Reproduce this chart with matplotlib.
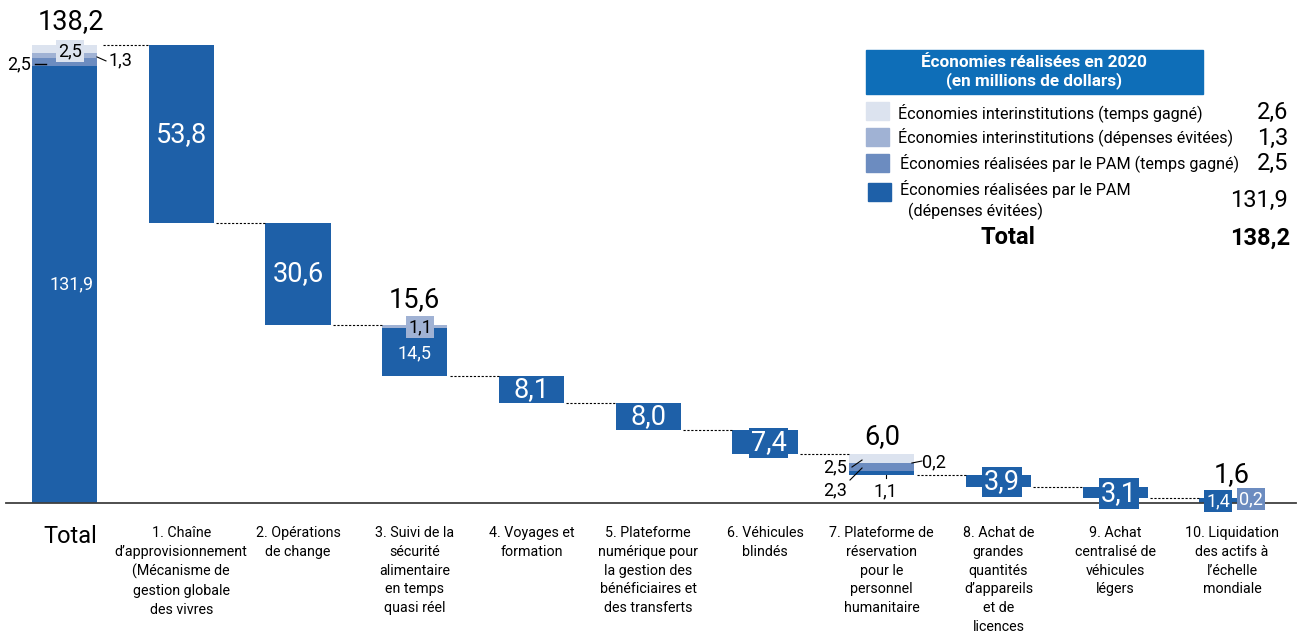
import matplotlib.pyplot as plt
from matplotlib.patches import Rectangle

plt.rcParams['font.family'] = ['Roboto', 'DejaVu Sans']

# ---- data -------------------------------------------------------------
categories = [
    "Total",
    "1. Chaîne\nd’approvisionnement\n(Mécanisme de\ngestion globale\ndes vivres",
    "2. Opérations\nde change",
    "3. Suivi de la\nsécurité\nalimentaire\nen temps\nquasi réel",
    "4. Voyages et\nformation",
    "5. Plateforme\nnumérique pour\nla gestion des\nbénéficiaires et\ndes transferts",
    "6. Véhicules\nblindés",
    "7. Plateforme de\nréservation\npour le\npersonnel\nhumanitaire",
    "8. Achat de\ngrandes\nquantités\nd’appareils\net de\nlicences",
    "9. Achat\ncentralisé de\nvéhicules\nlégers",
    "10. Liquidation\ndes actifs à\nl’échelle\nmondiale",
]
# stacked components, bottom to top
pam_depenses = [131.9, 53.8, 30.6, 14.5, 8.1, 8.0, 7.4, 1.1, 3.9, 3.1, 1.4]
pam_temps = [2.5, 0, 0, 0, 0, 0, 0, 2.3, 0, 0, 0.2]
inter_depenses = [1.3, 0, 0, 1.1, 0, 0, 0, 0.2, 0, 0, 0]
inter_temps = [2.5, 0, 0, 0, 0, 0, 0, 2.5, 0, 0, 0]
bar_totals = [138.2, 53.8, 30.6, 15.6, 8.1, 8.0, 7.4, 6.0, 3.9, 3.1, 1.6]

legend_labels = [
    "Économies interinstitutions (temps gagné)",
    "Économies interinstitutions (dépenses évitées)",
    "Économies réalisées par le PAM (temps gagné)",
    "Économies réalisées par le PAM\n  (dépenses évitées)",
]
legend_values = [2.6, 1.3, 2.5, 131.9]
grand_total = 138.2

c_dark = '#1e60a8'
c_med = '#6c8cc0'
c_grey = '#a0b2d4'
c_light = '#dce3ef'
c_head = '#0e6eb8'


def fmt(v):
    return f"{v:.1f}".replace(".", ",")


series = [(pam_depenses, c_dark), (pam_temps, c_med),
          (inter_depenses, c_grey), (inter_temps, c_light)]

# waterfall levels
n = len(categories)
sums = [sum(s[0][i] for s in series) for i in range(n)]
bases = [0.0]
tops = [sums[0]]
level = sums[0]
for i in range(1, n):
    tops.append(level)
    level -= sums[i]
    bases.append(level)

fig = plt.figure(figsize=(13.01, 6.37), dpi=100)
ax = fig.add_axes([0, 0, 1, 1])
ax.set_xlim(-0.5525, 10.591)
ax.set_ylim(-40.43, 151.78)
ax.axis('off')

w = 0.557
x = list(range(n))
for i in x:
    run = bases[i]
    for vals, col in series:
        if vals[i] > 0:
            ax.bar(i, vals[i], bottom=run, width=w, color=col, linewidth=0)
            run += vals[i]

# connectors
for i in range(n - 1):
    gap = 0.05 if i == 0 else 0.02
    y = tops[i] if i == 0 else bases[i]
    ax.plot([i + w / 2 + gap, i + 1 - w / 2], [y, y], color='black',
            lw=0.8, ls=(0, (2, 1.5)))

# baseline
ax.plot([-0.5, 10.55], [0, 0], color='#404040', lw=1.3)

# category labels
ax.text(0.05, -10.0, categories[0], ha='center', va='center', fontsize=17)
for i in x[1:]:
    ax.text(i, -7.0, categories[i], ha='center', va='top', fontsize=10.3,
            linespacing=1.43)

big = 19.5
small = 13

# values inside bars
for i in [1, 2, 4, 5]:
    ax.text(i, (tops[i] + bases[i]) / 2, fmt(bar_totals[i]), color='white',
            ha='center', va='center', fontsize=big)
for i in [6, 8, 9]:
    ax.text(i + 0.03, (tops[i] + bases[i]) / 2 - 0.3, fmt(bar_totals[i]),
            color='white', ha='center', va='center', fontsize=big,
            bbox=dict(boxstyle='square,pad=0.07', fc=c_dark, ec='none'))

# total column
ax.text(0.06, pam_depenses[0] / 2, fmt(pam_depenses[0]), color='white',
        ha='center', va='center', fontsize=small)
ax.text(0.055, tops[0] + 7.0, fmt(bar_totals[0]), ha='center', va='center',
        fontsize=big)
ax.text(0.047, tops[0] - 1.9, fmt(inter_temps[0]), ha='center', va='center',
        fontsize=small, bbox=dict(boxstyle='square,pad=0.12', fc=c_light, ec='none'))
ax.text(-0.287, 132.3, fmt(pam_temps[0]), ha='right', va='center', fontsize=small)
ax.plot([-0.253, -0.158], [132.6, 132.6], color='black', lw=1)
ax.text(0.373, 133.5, fmt(inter_depenses[0]), ha='left', va='center', fontsize=small)
ax.plot([0.278, 0.355], [134.6, 133.4], color='black', lw=0.8)

# bar 3
ax.text(3.0, pam_depenses[3] / 2 + bases[3] - 0.3, fmt(pam_depenses[3]),
        color='white', ha='center', va='center', fontsize=small)
ax.text(3.047, tops[3] - 0.7, fmt(inter_depenses[3]), ha='center', va='center',
        fontsize=small, bbox=dict(boxstyle='square,pad=0.12', fc=c_grey, ec='none'))
ax.text(3.0, tops[3] + 7.5, fmt(bar_totals[3]), ha='center', va='center',
        fontsize=big)

# bar 7
ax.text(7.0, tops[7] + 5.3, fmt(bar_totals[7]), ha='center', va='center',
        fontsize=big)
ax.text(6.70, 10.9, fmt(inter_temps[7]), ha='right', va='center', fontsize=small)
ax.plot([6.745, 6.831], [10.86, 12.97], color='black', lw=0.8)
ax.text(6.70, 3.9, fmt(pam_temps[7]), ha='right', va='center', fontsize=small)
ax.plot([6.728, 6.831], [6.94, 10.56], color='black', lw=0.8)
ax.text(7.035, 3.6, fmt(pam_depenses[7]), ha='center', va='center', fontsize=small)
ax.plot([7.035, 7.035], [bases[7], bases[7] - 1.0], color='black', lw=0.8)
ax.text(7.345, 12.4, fmt(inter_depenses[7]), ha='left', va='center', fontsize=small)
ax.plot([7.258, 7.344], [12.07, 12.67], color='black', lw=0.8)

# bar 10
ax.text(9.88, 0.6, fmt(pam_depenses[10]), color='white', ha='center',
        va='center', fontsize=small,
        bbox=dict(boxstyle='square,pad=0.12', fc=c_dark, ec='none'))
ax.text(10.16, 1.2, fmt(pam_temps[10]), color='white', ha='center',
        va='center', fontsize=small,
        bbox=dict(boxstyle='square,pad=0.12', fc=c_med, ec='none'))
ax.text(10.0, tops[10] + 7.0, fmt(bar_totals[10]), ha='center', va='center',
        fontsize=big)

# ---- legend panel (figure pixels) -------------------------------------
W, H = 1301, 637


def fx(px):
    return px / W


def fy(py):
    return 1 - py / H


fig.patches.append(Rectangle((fx(866), fy(94)), fx(337), 44 / H, color=c_head,
                             transform=fig.transFigure))
fig.text(fx(1034), fy(72), "Économies réalisées en 2020\n(en millions de dollars)",
         color='white', fontweight='bold', ha='center', va='center',
         fontsize=12.3, linespacing=1.12)

sw_cols = [c_light, c_grey, c_med, c_dark]
sw_y = [102, 128, 154, 183]
txt_y = [113, 137, 163, 200]
val_y = [112, 138, 163, 200]
for k in range(4):
    fig.patches.append(Rectangle((fx(866 if k < 3 else 868), fy(sw_y[k] + 18)),
                                 fx(23), 18 / H, color=sw_cols[k],
                                 transform=fig.transFigure))
    fig.text(fx(898 if k < 2 else 900), fy(txt_y[k]), legend_labels[k],
             ha='left', va='center', fontsize=11.6, linespacing=1.42)
    fig.text(fx(1288), fy(val_y[k]), fmt(legend_values[k]), ha='right',
             va='center', fontsize=17)
fig.text(fx(1008), fy(238), "Total", ha='center', va='center', fontsize=17,
         fontweight='bold')
fig.text(fx(1290), fy(238), fmt(grand_total), ha='right', va='center',
         fontsize=17, fontweight='bold')

fig.savefig('out.png', dpi=100)
